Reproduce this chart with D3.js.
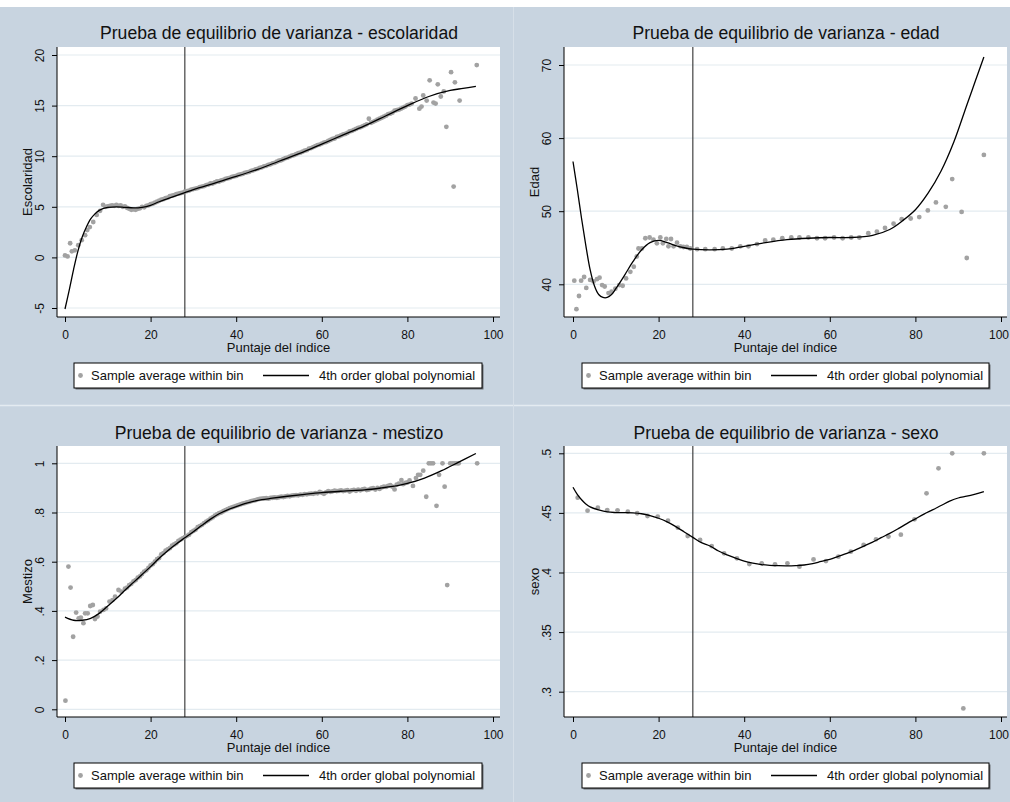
<!DOCTYPE html>
<html>
<head>
<meta charset="utf-8">
<script src="https://cdn.jsdelivr.net/npm/d3@7"></script>
<style>
body { margin: 0; background: #fff; }
svg { display: block; font-family: "Liberation Sans", Arial, sans-serif; }
</style>
</head>
<body>
<svg id="chart"></svg>
<script>
// ---- data ----
var xTicks = [0, 20, 40, 60, 80, 100];
var cutoff = 28;
var legendLabels = ["Sample average within bin", "4th order global polynomial"];
var xTitle = "Puntaje del índice";

var titles = ["Prueba de equilibrio de varianza - escolaridad", "Prueba de equilibrio de varianza - edad",
              "Prueba de equilibrio de varianza - mestizo", "Prueba de equilibrio de varianza - sexo"];
var yTitles = ["Escolaridad", "Edad", "Mestizo", "sexo"];

var escTicks = [-5, 0, 5, 10, 15, 20];
var escTickLabels = ["-5", "0", "5", "10", "15", "20"];
var edadTicks = [40, 50, 60, 70];
var edadTickLabels = ["40", "50", "60", "70"];
var mesTicks = [0, 0.2, 0.4, 0.6, 0.8, 1];
var mesTickLabels = ["0", ".2", ".4", ".6", ".8", "1"];
var sexoTicks = [0.3, 0.35, 0.4, 0.45, 0.5];
var sexoTickLabels = [".3", ".35", ".4", ".45", ".5"];

// escolaridad
var escBinX = [0.0,0.6,1.2,1.6,2.3,3.1,3.9,4.7,5.2,5.8,6.6,7.4,8.2,8.9,9.5,
  10.0,10.5,11.0,11.5,12.0,12.5,13.0,13.5,14.0,14.5,15.0,15.5,16.0,16.5,17.0,17.5,18.0,18.5,19.0,19.5,
  20.0,20.5,21.0,21.5,22.0,22.5,23.0,23.5,24.0,24.5,25.0,25.5,26.0,26.5,27.0,27.5,
  28.0,28.5,29.0,29.5,30.0,30.5,31.0,31.5,32.0,32.5,33.0,33.5,34.0,34.5,35.0,35.5,36.0,36.5,37.0,37.5,
  38.0,38.5,39.0,39.5,40.0,40.5,41.0,41.5,42.0,42.5,43.0,43.5,44.0,44.5,45.0,45.5,46.0,46.5,47.0,47.5,
  48.0,48.5,49.0,49.5,50.0,50.5,51.0,51.5,52.0,52.5,53.0,53.5,54.0,54.5,55.0,55.5,56.0,56.5,57.0,57.5,
  58.0,58.5,59.0,59.5,60.0,60.5,61.0,61.5,62.0,62.5,63.0,63.5,64.0,64.5,65.0,65.5,66.0,66.5,67.0,67.5,
  68.0,68.5,69.0,69.5,70.0,70.5,71.0,71.5,72.0,72.5,73.0,73.5,74.0,74.5,75.0,75.5,76.0,76.5,77.0,77.5,
  78.0,78.5,79.0,79.5,80.0,80.5,81.0,
  81.9,82.8,83.3,83.7,84.5,85.2,86.1,86.6,87.1,87.8,88.5,89.1,90.2,90.8,91.1,92.2,96.2];
var escBinY = [0.2,0.1,1.4,0.6,0.7,1.2,1.7,2.2,2.7,3.0,3.5,4.2,4.6,5.2,5.0,
  5.05,5.1,5.15,5.1,5.2,5.1,5.15,5.0,5.05,4.9,4.8,4.7,4.75,4.7,4.8,4.85,5.0,4.95,5.1,5.15,
  5.25,5.3,5.4,5.5,5.6,5.7,5.75,5.85,5.9,6.05,6.1,6.15,6.25,6.3,6.35,6.4,
  6.5,6.55,6.6,6.7,6.75,6.8,6.85,6.95,7.0,7.05,7.15,7.2,7.3,7.3,7.4,7.5,7.5,7.6,7.65,7.75,
  7.8,7.85,7.95,8.0,8.05,8.15,8.2,8.25,8.35,8.4,8.45,8.55,8.6,8.7,8.75,8.85,8.9,9.0,9.05,9.15,
  9.2,9.3,9.35,9.45,9.55,9.6,9.7,9.8,9.85,9.95,10.05,10.1,10.2,10.3,10.35,10.45,10.55,10.6,10.75,10.8,
  10.9,11.0,11.1,11.15,11.25,11.35,11.4,11.5,11.6,11.7,11.75,11.9,11.95,12.05,12.15,12.2,12.3,12.45,12.5,12.6,
  12.7,12.8,12.85,12.95,13.05,13.15,13.7,13.3,13.4,13.5,13.6,13.7,13.8,13.9,14.0,14.15,14.2,14.3,14.5,14.55,
  14.6,14.7,14.8,14.9,15.05,15.1,15.2,
  15.7,14.7,14.9,16.0,15.5,17.5,15.3,15.2,17.1,15.9,16.4,12.9,18.3,7.0,17.3,15.5,19.0];
var escFitX = [0,1,2,3,4,5,6,7,8,9,10,12,14,16,18,20,22,24,26,28,30,35,40,45,50,55,60,65,70,75,80,85,90,93,96];
var escFitY = [-5.1,-3.2,-1.2,0.6,2.0,3.0,3.8,4.3,4.65,4.85,4.95,5.0,4.95,4.9,4.95,5.15,5.5,5.8,6.1,6.4,6.7,7.35,8.0,8.7,9.5,10.3,11.2,12.1,13.0,14.0,15.0,15.9,16.5,16.7,16.9];

// edad
var edadBinX = [0.3,0.8,1.4,1.9,2.6,3.1,4.0,4.8,5.6,6.2,6.8,7.4,8.3,9.0,9.9,10.8,11.6,12.4,13.4,14.2,
  14.9,15.3,16.1,16.9,17.9,18.8,19.6,20.4,21.0,21.8,22.3,22.9,23.5,24.3,25.1,25.8,26.6,27.4,29.0,30.9,
  33.1,35.0,37.1,39.1,41.0,43.0,44.9,46.8,48.9,51.0,52.9,55.0,57.0,58.9,61.0,63.0,65.0,66.9,69.0,71.0,
  72.9,74.9,76.8,78.9,80.9,82.9,84.8,87.1,88.6,90.8,92.0,96.0];
var edadBinY = [40.5,36.6,38.4,40.5,41.0,39.5,40.6,40.4,40.7,40.9,39.9,39.7,38.8,39.0,39.4,39.9,39.8,40.8,41.7,42.4,
  43.8,44.9,44.9,46.3,46.4,46.1,45.6,46.4,45.6,46.2,45.2,46.2,45.2,45.7,45.2,45.1,45.1,44.9,44.8,44.8,
  44.8,44.9,44.9,45.2,45.2,45.5,46.0,46.1,46.3,46.4,46.4,46.4,46.3,46.3,46.4,46.3,46.4,46.4,47.0,47.2,
  47.7,48.3,48.9,49.0,49.2,50.1,51.2,50.6,54.4,49.9,43.6,57.7];
var edadFitX = [0,1,2,3,4,5,6,7,8,9,10,12,14,16,18,20,22,24,26,28,32,36,40,45,50,55,60,65,70,74,77,80,83,86,89,92,94,96];
var edadFitY = [56.8,53.0,49.0,45.3,42.0,39.8,38.6,38.2,38.2,38.6,39.4,41.2,43.1,44.7,45.7,46.0,45.7,45.3,45.0,44.8,44.7,44.8,45.2,45.7,46.1,46.3,46.4,46.4,46.7,47.5,48.7,50.2,52.5,55.5,59.5,64.5,67.8,71.1];

// mestizo
var mesBinX = [0.1,0.8,1.3,1.9,2.6,3.2,3.7,4.3,4.7,5.3,5.9,6.5,7.0,7.6,8.2,9.0,9.6,10.4,11.1,11.7,12.5,13.2,
  14.0,14.5,15.0,15.5,16.0,16.5,17.0,17.5,18.0,18.5,19.0,19.5,20.0,20.5,21.0,21.5,22.0,22.5,23.0,23.5,
  24.0,24.5,25.0,25.5,26.0,26.5,27.0,27.5,28.0,28.5,29.0,29.5,30.0,30.5,31.0,31.5,32.0,32.5,33.0,33.5,
  34.0,34.5,35.0,35.5,36.0,36.5,37.0,37.5,38.0,38.5,39.0,39.5,40.0,40.5,41.0,41.5,42.0,42.5,43.0,43.5,
  44.0,44.5,45.0,45.5,46.0,46.5,47.0,47.5,48.0,48.5,49.0,49.5,50.0,50.5,51.0,51.5,52.0,52.5,53.0,53.5,
  54.0,54.5,55.0,55.5,56.0,56.5,57.0,57.5,58.0,58.5,59.0,59.5,60.0,60.5,61.0,61.5,62.0,62.5,63.0,63.5,
  64.0,64.5,65.0,65.5,66.0,66.5,67.0,67.5,68.0,68.5,69.0,69.5,70.0,70.5,71.0,71.5,72.0,72.5,73.0,73.5,
  74.0,74.5,75.0,75.5,76.0,76.5,77.0,77.5,78.0,78.6,79.0,79.5,80.0,80.5,81.3,82.0,82.5,83.0,83.7,84.4,
  85.0,85.5,86.0,86.8,87.4,88.2,88.7,89.3,90.0,90.6,91.1,91.6,92.0,96.3];
var mesBinY = [0.035,0.58,0.495,0.295,0.393,0.37,0.373,0.35,0.39,0.39,0.42,0.424,0.367,0.377,0.397,0.404,0.41,0.438,0.444,0.458,0.485,0.478,
  0.49,0.495,0.505,0.51,0.52,0.525,0.535,0.54,0.55,0.56,0.565,0.575,0.585,0.59,0.6,0.61,0.615,0.63,0.635,0.645,
  0.65,0.655,0.665,0.67,0.675,0.685,0.69,0.695,0.7,0.705,0.71,0.72,0.725,0.73,0.74,0.745,0.75,0.757,0.763,0.768,
  0.775,0.78,0.787,0.792,0.797,0.8,0.805,0.81,0.814,0.818,0.821,0.824,0.827,0.83,0.833,0.836,0.838,0.841,0.843,0.846,
  0.848,0.85,0.853,0.855,0.856,0.857,0.858,0.856,0.859,0.86,0.861,0.86,0.862,0.864,0.863,0.865,0.867,0.866,0.869,0.87,
  0.871,0.87,0.873,0.872,0.875,0.874,0.876,0.877,0.876,0.879,0.878,0.884,0.88,0.876,0.882,0.887,0.884,0.886,0.889,0.887,
  0.888,0.89,0.887,0.889,0.891,0.885,0.89,0.892,0.888,0.893,0.89,0.894,0.896,0.891,0.893,0.897,0.899,0.893,0.9,0.896,
  0.902,0.905,0.904,0.908,0.911,0.905,0.894,0.913,0.917,0.932,0.915,0.92,0.922,0.93,0.908,0.94,0.953,0.953,0.97,0.864,
  1.0,1.0,1.0,0.827,0.953,1.0,0.905,0.505,1.0,1.0,1.0,1.0,1.0,1.0];
var mesFitX = [0,2,4,6,8,10,12,14,16,18,20,22,24,26,28,30,32,34,36,38,40,42,44,46,48,52,56,60,65,70,74,78,80,84,88,92,96];
var mesFitY = [0.375,0.362,0.362,0.370,0.390,0.420,0.450,0.484,0.516,0.548,0.580,0.614,0.645,0.672,0.697,0.722,0.748,0.773,0.795,0.811,0.824,0.836,0.845,0.852,0.857,0.866,0.874,0.881,0.887,0.892,0.900,0.910,0.918,0.940,0.970,1.005,1.040];

// sexo
var sexoBinX = [1.1,3.4,5.8,8.0,10.4,12.8,15.0,17.4,19.8,22.2,24.5,26.8,29.7,32.4,35.3,38.3,41.2,44.1,47.2,50.1,
  52.9,56.2,59.1,62.0,64.9,67.9,70.8,73.7,76.6,79.8,82.6,85.4,88.6,91.2,96.0];
var sexoBinY = [0.4628,0.4519,0.4544,0.4524,0.4522,0.451,0.4497,0.4474,0.4469,0.4435,0.4376,0.4306,0.4273,0.4222,0.4161,0.4119,0.4071,0.4077,0.4069,0.4077,
  0.4049,0.411,0.4096,0.4133,0.4175,0.4231,0.4278,0.4301,0.4317,0.4446,0.4664,0.4874,0.5,0.286,0.5];
var sexoFitX = [0,1,2,3,4,6,8,10,12,14,16,18,20,22,24,26,28,30,32,34,36,38,40,42,44,46,48,50,52,54,56,58,60,62,64,66,68,70,72,74,76,78,80,82,84,86,88,90,92,94,96];
var sexoFitY = [0.4715,0.4655,0.461,0.4575,0.455,0.4525,0.4508,0.4503,0.4502,0.45,0.4493,0.4478,0.4455,0.4425,0.4385,0.434,0.4295,0.425,0.4222,0.418,0.4148,0.412,0.4095,0.4078,0.4066,0.406,0.4057,0.4056,0.4058,0.4063,0.4075,0.4093,0.411,0.4135,0.416,0.419,0.4222,0.4255,0.4292,0.4328,0.4368,0.441,0.445,0.449,0.4525,0.4562,0.4598,0.4625,0.464,0.4658,0.4678];

// ---- layout ----
var W = 1010, H = 802;
var bg = "#c8d4e0";

var cols = [
  { plotL: 57, plotR: 500, x0: 65, x100: 493, legL: 74, legR: 482, titleX: 279, ytickX: 44, ytitleX: 32, lastTickShift: 0 },
  { plotL: 564, plotR: 1007, x0: 573, x100: 1001, legL: 582, legR: 989, titleX: 786, ytickX: 551, ytitleX: 539, lastTickShift: -2.5 }
];
var rows = [
  { plotT: 47, plotB: 317, titleY: 39, xtickY: 339, xtitleY: 352, legT: 363, legB: 388 },
  { plotT: 446, plotB: 717, titleY: 439, xtickY: 739, xtitleY: 752, legT: 763, legB: 788 }
];

var panels = [
  { col: 0, row: 0, title: titles[0], ytitle: yTitles[0], ticks: escTicks, tickLabels: escTickLabels,
    cal: [-5, 308, 20, 55], binX: escBinX, binY: escBinY, fitX: escFitX, fitY: escFitY },
  { col: 1, row: 0, title: titles[1], ytitle: yTitles[1], ticks: edadTicks, tickLabels: edadTickLabels,
    cal: [40, 284.3, 70, 65], binX: edadBinX, binY: edadBinY, fitX: edadFitX, fitY: edadFitY },
  { col: 0, row: 1, title: titles[2], ytitle: yTitles[2], ticks: mesTicks, tickLabels: mesTickLabels,
    cal: [0, 709.3, 1, 463.3], binX: mesBinX, binY: mesBinY, fitX: mesFitX, fitY: mesFitY },
  { col: 1, row: 1, title: titles[3], ytitle: yTitles[3], ticks: sexoTicks, tickLabels: sexoTickLabels,
    cal: [0.3, 691.7, 0.5, 453.3], binX: sexoBinX, binY: sexoBinY, fitX: sexoFitX, fitY: sexoFitY }
];

var svg = d3.select("#chart").attr("width", W).attr("height", H);

svg.append("rect").attr("width", W).attr("height", H).attr("fill", bg);
svg.append("rect").attr("width", W).attr("height", 7).attr("fill", "#ffffff");
// panel separators
svg.append("line").attr("x1", 0).attr("x2", W).attr("y1", 405.5).attr("y2", 405.5)
  .attr("stroke", "#e4ebf1").attr("stroke-width", 1.5);
svg.append("line").attr("x1", 513.5).attr("x2", 513.5).attr("y1", 7).attr("y2", H)
  .attr("stroke", "#d6dfe8").attr("stroke-width", 1);

panels.forEach(drawPanel);

function drawPanel(p) {
  var c = cols[p.col], r = rows[p.row];
  var g = svg.append("g");

  var x = d3.scaleLinear().domain([0, 100]).range([c.x0, c.x100]);
  var y = d3.scaleLinear().domain([p.cal[0], p.cal[2]]).range([p.cal[1], p.cal[3]]);

  // plot region
  g.append("rect")
    .attr("x", c.plotL).attr("y", r.plotT)
    .attr("width", c.plotR - c.plotL).attr("height", r.plotB - r.plotT)
    .attr("fill", "#ffffff");

  // grid
  g.selectAll(".grid")
    .data(p.ticks)
    .enter().append("line")
    .attr("x1", c.plotL).attr("x2", c.plotR)
    .attr("y1", function(d) { return y(d); })
    .attr("y2", function(d) { return y(d); })
    .attr("stroke", "#e3ebf0").attr("stroke-width", 1.2);

  // cutoff line
  g.append("line")
    .attr("x1", x(cutoff)).attr("x2", x(cutoff))
    .attr("y1", r.plotT).attr("y2", r.plotB)
    .attr("stroke", "#303030").attr("stroke-width", 1.1);

  // bins
  var pts = p.binX.map(function(v, i) { return [v, p.binY[i]]; });
  g.selectAll(".bin")
    .data(pts)
    .enter().append("circle")
    .attr("cx", function(d) { return x(d[0]); })
    .attr("cy", function(d) { return y(d[1]); })
    .attr("r", 2.4)
    .attr("fill", "#a2a2a2");

  // polynomial
  var fit = p.fitX.map(function(v, i) { return [v, p.fitY[i]]; });
  var line = d3.line()
    .x(function(d) { return x(d[0]); })
    .y(function(d) { return y(d[1]); })
    .curve(d3.curveCatmullRom.alpha(0.5));
  g.append("path")
    .attr("d", line(fit))
    .attr("fill", "none")
    .attr("stroke", "#000")
    .attr("stroke-width", 1.3);

  // y axis
  var ya = g.append("g")
    .attr("transform", "translate(" + c.plotL + ",0)")
    .call(d3.axisLeft(y).tickValues(p.ticks).tickSize(5).tickSizeOuter(0)
      .tickFormat(function(d, i) { return p.tickLabels[i]; }));
  ya.select(".domain").remove();
  ya.selectAll(".tick line").attr("stroke", "#000");
  ya.selectAll(".tick text")
    .attr("transform", "rotate(-90)")
    .attr("x", 0).attr("y", c.ytickX - c.plotL).attr("dy", 0)
    .attr("text-anchor", "middle")
    .attr("font-size", 12).attr("font-family", "Liberation Sans, Arial, sans-serif")
    .attr("fill", "#111");
  g.append("line")
    .attr("x1", c.plotL).attr("x2", c.plotL).attr("y1", r.plotT).attr("y2", r.plotB)
    .attr("stroke", "#000").attr("stroke-width", 1);

  // x axis
  var xa = g.append("g")
    .attr("transform", "translate(0," + r.plotB + ")")
    .call(d3.axisBottom(x).tickValues(xTicks).tickSize(5).tickSizeOuter(0));
  xa.select(".domain").remove();
  xa.selectAll(".tick line").attr("stroke", "#000");
  xa.selectAll(".tick text")
    .attr("y", r.xtickY - r.plotB).attr("dy", 0)
    .attr("x", function(d) { return d === 100 ? c.lastTickShift : 0; })
    .attr("font-size", 12).attr("font-family", "Liberation Sans, Arial, sans-serif")
    .attr("fill", "#111");
  g.append("line")
    .attr("x1", c.plotL).attr("x2", c.plotR).attr("y1", r.plotB).attr("y2", r.plotB)
    .attr("stroke", "#000").attr("stroke-width", 1);

  // titles
  g.append("text")
    .attr("x", c.titleX).attr("y", r.titleY)
    .attr("text-anchor", "middle")
    .attr("font-size", 17.6).attr("fill", "#111")
    .text(p.title);
  g.append("text")
    .attr("x", (c.plotL + c.plotR) / 2).attr("y", r.xtitleY)
    .attr("text-anchor", "middle")
    .attr("font-size", 13).attr("fill", "#111")
    .text(xTitle);
  g.append("text")
    .attr("transform", "translate(" + c.ytitleX + "," + ((r.plotT + r.plotB) / 2) + ") rotate(-90)")
    .attr("text-anchor", "middle")
    .attr("font-size", 13).attr("fill", "#111")
    .text(p.ytitle);

  // legend
  var ly = (r.legT + r.legB) / 2;
  g.append("rect")
    .attr("x", c.legL + 1.5).attr("y", r.legT + 1.5)
    .attr("width", c.legR - c.legL).attr("height", r.legB - r.legT)
    .attr("fill", "#6a6f74");
  g.append("rect")
    .attr("x", c.legL).attr("y", r.legT)
    .attr("width", c.legR - c.legL).attr("height", r.legB - r.legT)
    .attr("fill", "#fff").attr("stroke", "#000").attr("stroke-width", 1);
  g.append("circle")
    .attr("cx", c.legL + 6.5).attr("cy", ly).attr("r", 2.4).attr("fill", "#a2a2a2");
  g.append("text")
    .attr("x", c.legL + 17).attr("y", ly + 4.5)
    .attr("font-size", 13).attr("fill", "#111")
    .text(legendLabels[0]);
  g.append("line")
    .attr("x1", c.legL + 189).attr("x2", c.legL + 235)
    .attr("y1", ly).attr("y2", ly)
    .attr("stroke", "#000").attr("stroke-width", 1.3);
  g.append("text")
    .attr("x", c.legL + 245).attr("y", ly + 4.5)
    .attr("font-size", 13).attr("fill", "#111")
    .text(legendLabels[1]);
}
</script>
</body>
</html>
